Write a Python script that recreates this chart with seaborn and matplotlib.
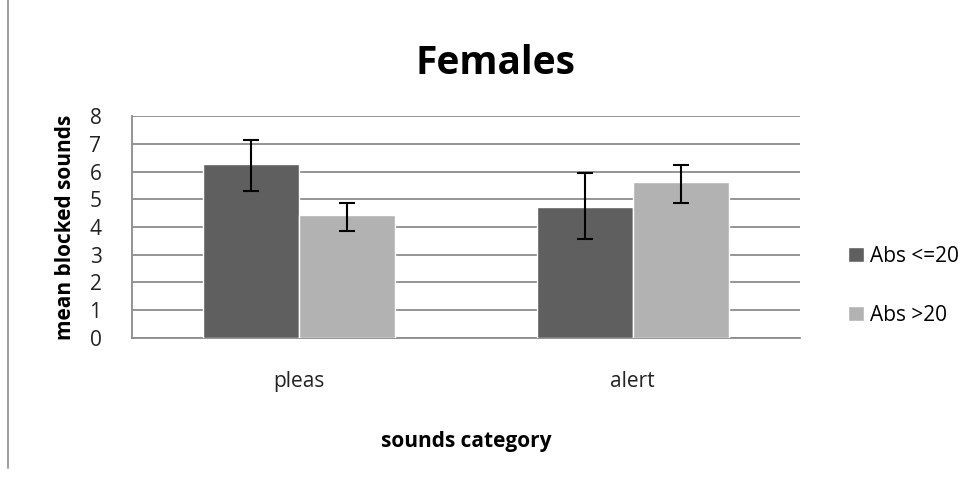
import pandas as pd
import numpy as np
import seaborn as sns
import matplotlib.pyplot as plt
from matplotlib.lines import Line2D

categories = ["pleas", "alert"]
groups = ["Abs <=20", "Abs >20"]
means_low = [6.26, 4.73]
means_high = [4.44, 5.61]
err_low_top = [7.12, 5.95]
err_low_bot = [5.30, 3.56]
err_high_top = [4.86, 6.23]
err_high_bot = [3.84, 4.85]
colors = ["#5f5f5f", "#b2b2b2"]

df = pd.DataFrame({
    "category": categories * 2,
    "group": [groups[0]] * 2 + [groups[1]] * 2,
    "mean": means_low + means_high,
    "top": err_low_top + err_high_top,
    "bot": err_low_bot + err_high_bot,
})

sns.set_style("white")
plt.rcParams["font.family"] = ["Open Sans", "DejaVu Sans"]
plt.rcParams["text.color"] = "black"
plt.rcParams["axes.labelcolor"] = "black"

fig = plt.figure(figsize=(9.8, 4.78), dpi=100)
ax = fig.add_axes([0.1347, 0.2929, 0.6813, 0.4644])

sns.barplot(data=df, x="category", y="mean", hue="group", order=categories,
            hue_order=groups, palette=colors, width=0.575, errorbar=None,
            saturation=1, ax=ax, zorder=3)

# error bars at bar centres
for cont, g in zip(ax.containers, groups):
    sub = df[df["group"] == g].set_index("category").loc[categories]
    xs = [p.get_x() + p.get_width() / 2 for p in cont.patches]
    ax.errorbar(xs, sub["mean"], yerr=[sub["mean"] - sub["bot"], sub["top"] - sub["mean"]],
                fmt="none", ecolor="black", elinewidth=1.5, capsize=6, capthick=1.5, zorder=4)

ax.set_ylim(0, 8)
ax.set_xlim(-0.5, 1.5)
ax.set_yticks(range(0, 9))
ax.yaxis.grid(True, color="#8c8c8c", linewidth=1.3, zorder=0)
ax.set_axisbelow(True)
for s in ["top", "right"]:
    ax.spines[s].set_visible(False)
for s in ["left", "bottom"]:
    ax.spines[s].set_color("#8c8c8c")
    ax.spines[s].set_linewidth(1.3)

ax.set_xticks([0, 1])
ax.set_xticklabels(categories, fontsize=15, color="#222222")
ax.tick_params(axis="x", length=0, pad=24)
ax.set_xticks([-0.5, 0.5, 1.5], minor=True)
ax.tick_params(axis="x", which="minor", length=7, color="#8c8c8c", width=1.3)
ax.tick_params(axis="y", length=10, color="#8c8c8c", width=1.3, labelsize=15,
               labelcolor="#222222", pad=12)

ax.set_xlabel("sounds category", fontsize=15, fontweight="bold", labelpad=28)
ax.set_ylabel("mean blocked sounds", fontsize=15, fontweight="bold", labelpad=10)
ax.set_title("Females", fontsize=28, fontweight="bold", pad=30, x=0.545)

leg = ax.legend(loc="center left", bbox_to_anchor=(1.045, 0.235), frameon=False,
                fontsize=15, handlelength=0.75, handleheight=0.75, handletextpad=0.3,
                labelspacing=1.8)

fig.add_artist(Line2D([0.0082, 0.0082], [0.02, 1.0], color="#8c8c8c", linewidth=1.2))

fig.savefig("out.png", dpi=100)
